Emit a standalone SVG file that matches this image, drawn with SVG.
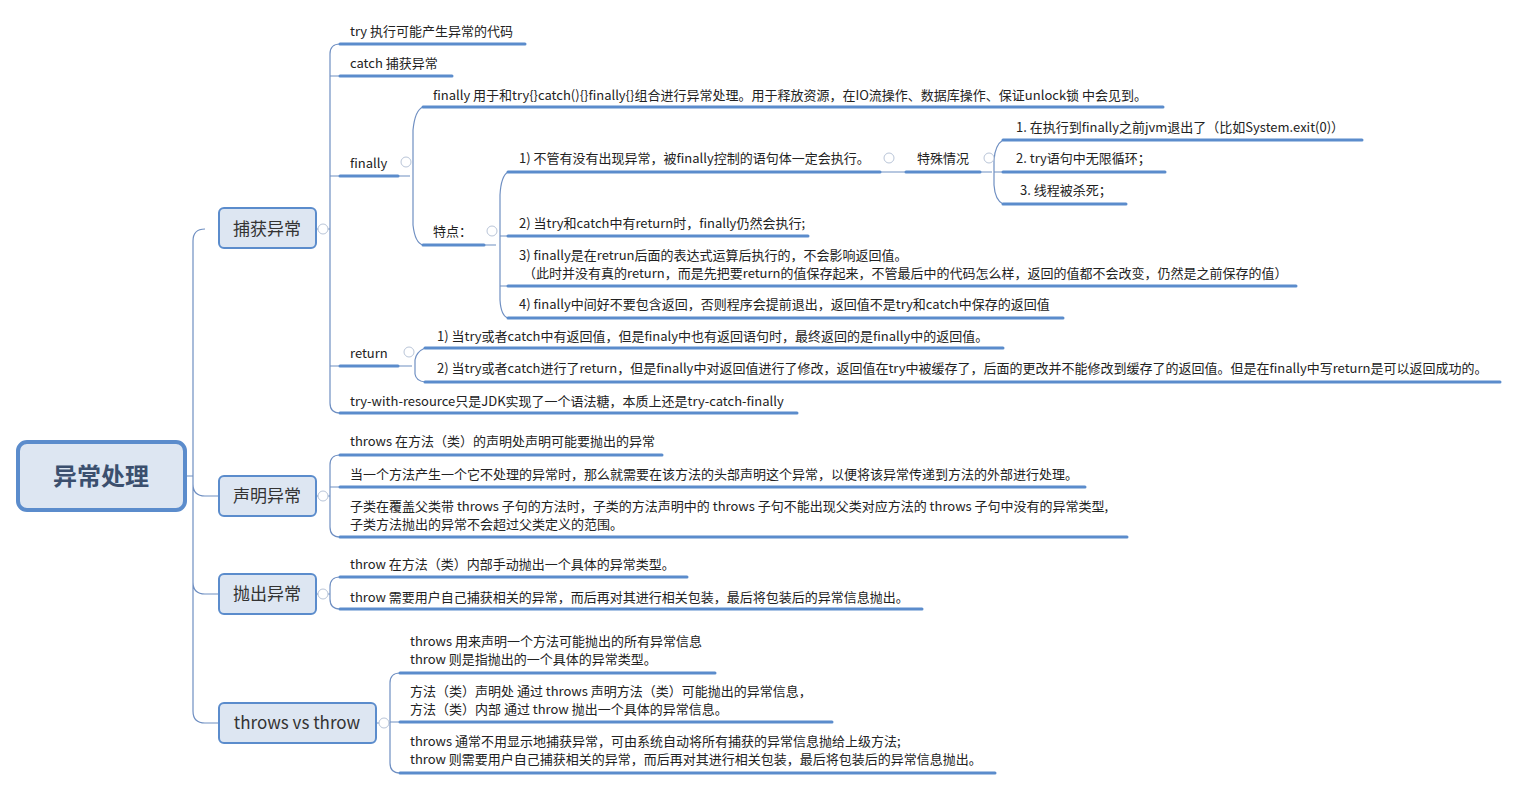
<svg xmlns="http://www.w3.org/2000/svg" width="1517" height="790" viewBox="0 0 1517 790">
<style>
.t{font-family:"Noto Sans CJK SC","Liberation Sans",sans-serif;font-size:13px;fill:#222}
.u{stroke:#5b8ccc;stroke-width:3;fill:none;stroke-linecap:round}
.c{stroke:#6f8fc2;stroke-width:1.2;fill:none}
.n{fill:#dde6f2;stroke:#5b8ccc;stroke-width:2}
.l1{font-family:"Noto Sans CJK SC","Liberation Sans",sans-serif;font-size:17px;fill:#333;text-anchor:middle}
.k{fill:#fff;stroke:#b9c5d8;stroke-width:1}
</style>
<rect width="1517" height="790" fill="#fff"/>
<g id="connectors">
<path class="c" d="M185,476 H193 M205,229 Q193,229 193,241 V711 Q193,723 205,723 H219 M193,484 Q193,496 205,496 H219 M193,582 Q193,594 205,594 H219"/>
<path class="c" d="M316,229 H330 M340,44 Q330,44 330,54 V403 Q330,413 340,413 M330,76 H340 M330,176 H340 M330,366 H340"/>
<path class="c" d="M398,176 H410 M423,107 Q415,110 413,130 V225 Q415,243 423,245"/>
<path class="c" d="M484,245 H496 M508,172 Q501,176 500,195 V300 Q501,316 508,318 M500,236 H508 M500,286 H508"/>
<path class="c" d="M880,172 H906 M980,172 H992 M1003,140 Q995,145 994,160 V185 Q995,200 1003,204 M994,172 H1003"/>
<path class="c" d="M398,366 H412 M425,348 Q416,352 415,360 V374 Q416,381 425,382"/>
<path class="c" d="M316,496 H330 M340,455 Q330,455 330,465 V527 Q330,537 340,537 M330,487 H340"/>
<path class="c" d="M316,594 H330 M340,577 Q330,577 330,587 V599 Q330,609 340,609"/>
<path class="c" d="M376,723 H390 M400,673 Q390,673 390,683 V763 Q390,773 400,773 M390,722 H400"/>
</g>
<g id="root"><rect x="18" y="442" width="167" height="68" rx="9" fill="#dde6f2" stroke="#5b8ccc" stroke-width="4"/><text x="101" y="485" text-anchor="middle" style="font-family:'Noto Sans CJK SC',sans-serif;font-size:24px;font-weight:bold;fill:#3b4f6e">异常处理</text></g>
<g id="n-catch"><rect class="n" x="219" y="208" width="97" height="40" rx="5"/><text class="l1" x="267" y="235">捕获异常</text><circle class="k" cx="323" cy="229" r="5"/></g>
<g id="n-decl"><rect class="n" x="219" y="476" width="97" height="40" rx="5"/><text class="l1" x="267" y="502">声明异常</text><circle class="k" cx="323" cy="496" r="5"/></g>
<g id="n-throw"><rect class="n" x="219" y="574" width="97" height="40" rx="5"/><text class="l1" x="267" y="600">抛出异常</text><circle class="k" cx="323" cy="594" r="5"/></g>
<g id="n-vs"><rect class="n" x="219" y="703" width="157" height="40" rx="5"/><text class="l1" x="297" y="729">throws vs throw</text><circle class="k" cx="384" cy="723" r="5"/></g>
<g id="c1"><text class="t" x="350" y="36">try 执行可能产生异常的代码</text><path class="u" d="M340,44 H525"/></g>
<g id="c2"><text class="t" x="350" y="68">catch 捕获异常</text><path class="u" d="M340,76 H452"/></g>
<g id="c3"><text class="t" x="350" y="168">finally</text><path class="u" d="M340,176 H398"/><circle class="k" cx="406" cy="162" r="5"/></g>
<g id="f1"><text class="t" x="433" y="100">finally 用于和try{}catch(){}finally{}组合进行异常处理。用于释放资源，在IO流操作、数据库操作、保证unlock锁 中会见到。</text><path class="u" d="M423,107 H1163"/></g>
<g id="f2"><text class="t" x="433" y="236">特点：</text><path class="u" d="M423,245 H484"/><circle class="k" cx="492" cy="231" r="5"/></g>
<g id="p1"><text class="t" x="519" y="163">1) 不管有没有出现异常，被finally控制的语句体一定会执行。</text><path class="u" d="M508,172 H880"/><circle class="k" cx="889" cy="158" r="5"/></g>
<g id="sp"><text class="t" x="917" y="163">特殊情况</text><path class="u" d="M906,172 H980"/><circle class="k" cx="989" cy="158" r="5"/></g>
<g id="s1"><text class="t" x="1016" y="132">1. 在执行到finally之前jvm退出了（比如System.exit(0)）</text><path class="u" d="M1003,140 H1362"/></g>
<g id="s2"><text class="t" x="1016" y="163">2. try语句中无限循环；</text><path class="u" d="M1003,172 H1165"/></g>
<g id="s3"><text class="t" x="1020" y="195">3. 线程被杀死；</text><path class="u" d="M1003,204 H1126"/></g>
<g id="p2"><text class="t" x="519" y="228">2) 当try和catch中有return时，finally仍然会执行;</text><path class="u" d="M508,236 H808"/></g>
<g id="p3"><text class="t" x="519" y="260">3) finally是在retrun后面的表达式运算后执行的，不会影响返回值。<tspan x="523" y="278">（此时并没有真的return，而是先把要return的值保存起来，不管最后中的代码怎么样，返回的值都不会改变，仍然是之前保存的值）</tspan></text><path class="u" d="M508,286 H1296"/></g>
<g id="p4"><text class="t" x="519" y="309">4) finally中间好不要包含返回，否则程序会提前退出，返回值不是try和catch中保存的返回值</text><path class="u" d="M508,318 H1063"/></g>
<g id="c4"><text class="t" x="350" y="358">return</text><path class="u" d="M340,366 H398"/><circle class="k" cx="409" cy="352" r="5"/></g>
<g id="r1"><text class="t" x="437" y="341">1) 当try或者catch中有返回值，但是finaly中也有返回语句时，最终返回的是finally中的返回值。</text><path class="u" d="M425,348 H1003"/></g>
<g id="r2"><text class="t" x="437" y="373">2) 当try或者catch进行了return，但是finally中对返回值进行了修改，返回值在try中被缓存了，后面的更改并不能修改到缓存了的返回值。但是在finally中写return是可以返回成功的。</text><path class="u" d="M425,382 H1500"/></g>
<g id="c5"><text class="t" x="350" y="406">try-with-resource只是JDK实现了一个语法糖，本质上还是try-catch-finally</text><path class="u" d="M340,413 H797"/></g>
<g id="d1"><text class="t" x="350" y="446">throws 在方法（类）的声明处声明可能要抛出的异常</text><path class="u" d="M340,455 H662"/></g>
<g id="d2"><text class="t" x="350" y="479">当一个方法产生一个它不处理的异常时，那么就需要在该方法的头部声明这个异常，以便将该异常传递到方法的外部进行处理。</text><path class="u" d="M340,487 H1085"/></g>
<g id="d3"><text class="t" x="350" y="511">子类在覆盖父类带 throws 子句的方法时，子类的方法声明中的 throws 子句不能出现父类对应方法的 throws 子句中没有的异常类型,<tspan x="350" y="529">子类方法抛出的异常不会超过父类定义的范围。</tspan></text><path class="u" d="M340,537 H1127"/></g>
<g id="t1"><text class="t" x="350" y="569">throw 在方法（类）内部手动抛出一个具体的异常类型。</text><path class="u" d="M340,577 H687"/></g>
<g id="t2"><text class="t" x="350" y="602">throw 需要用户自己捕获相关的异常，而后再对其进行相关包装，最后将包装后的异常信息抛出。</text><path class="u" d="M340,609 H922"/></g>
<g id="v1"><text class="t" x="410" y="646">throws 用来声明一个方法可能抛出的所有异常信息<tspan x="410" y="664">throw 则是指抛出的一个具体的异常类型。</tspan></text><path class="u" d="M400,673 H715"/></g>
<g id="v2"><text class="t" x="410" y="696">方法（类）声明处   通过 throws 声明方法（类）可能抛出的异常信息，<tspan x="410" y="714">方法（类）内部      通过 throw 抛出一个具体的异常信息。</tspan></text><path class="u" d="M400,722 H832"/></g>
<g id="v3"><text class="t" x="410" y="746">throws 通常不用显示地捕获异常，可由系统自动将所有捕获的异常信息抛给上级方法;<tspan x="410" y="764">throw 则需要用户自己捕获相关的异常，而后再对其进行相关包装，最后将包装后的异常信息抛出。</tspan></text><path class="u" d="M400,773 H995"/></g>
</svg>
